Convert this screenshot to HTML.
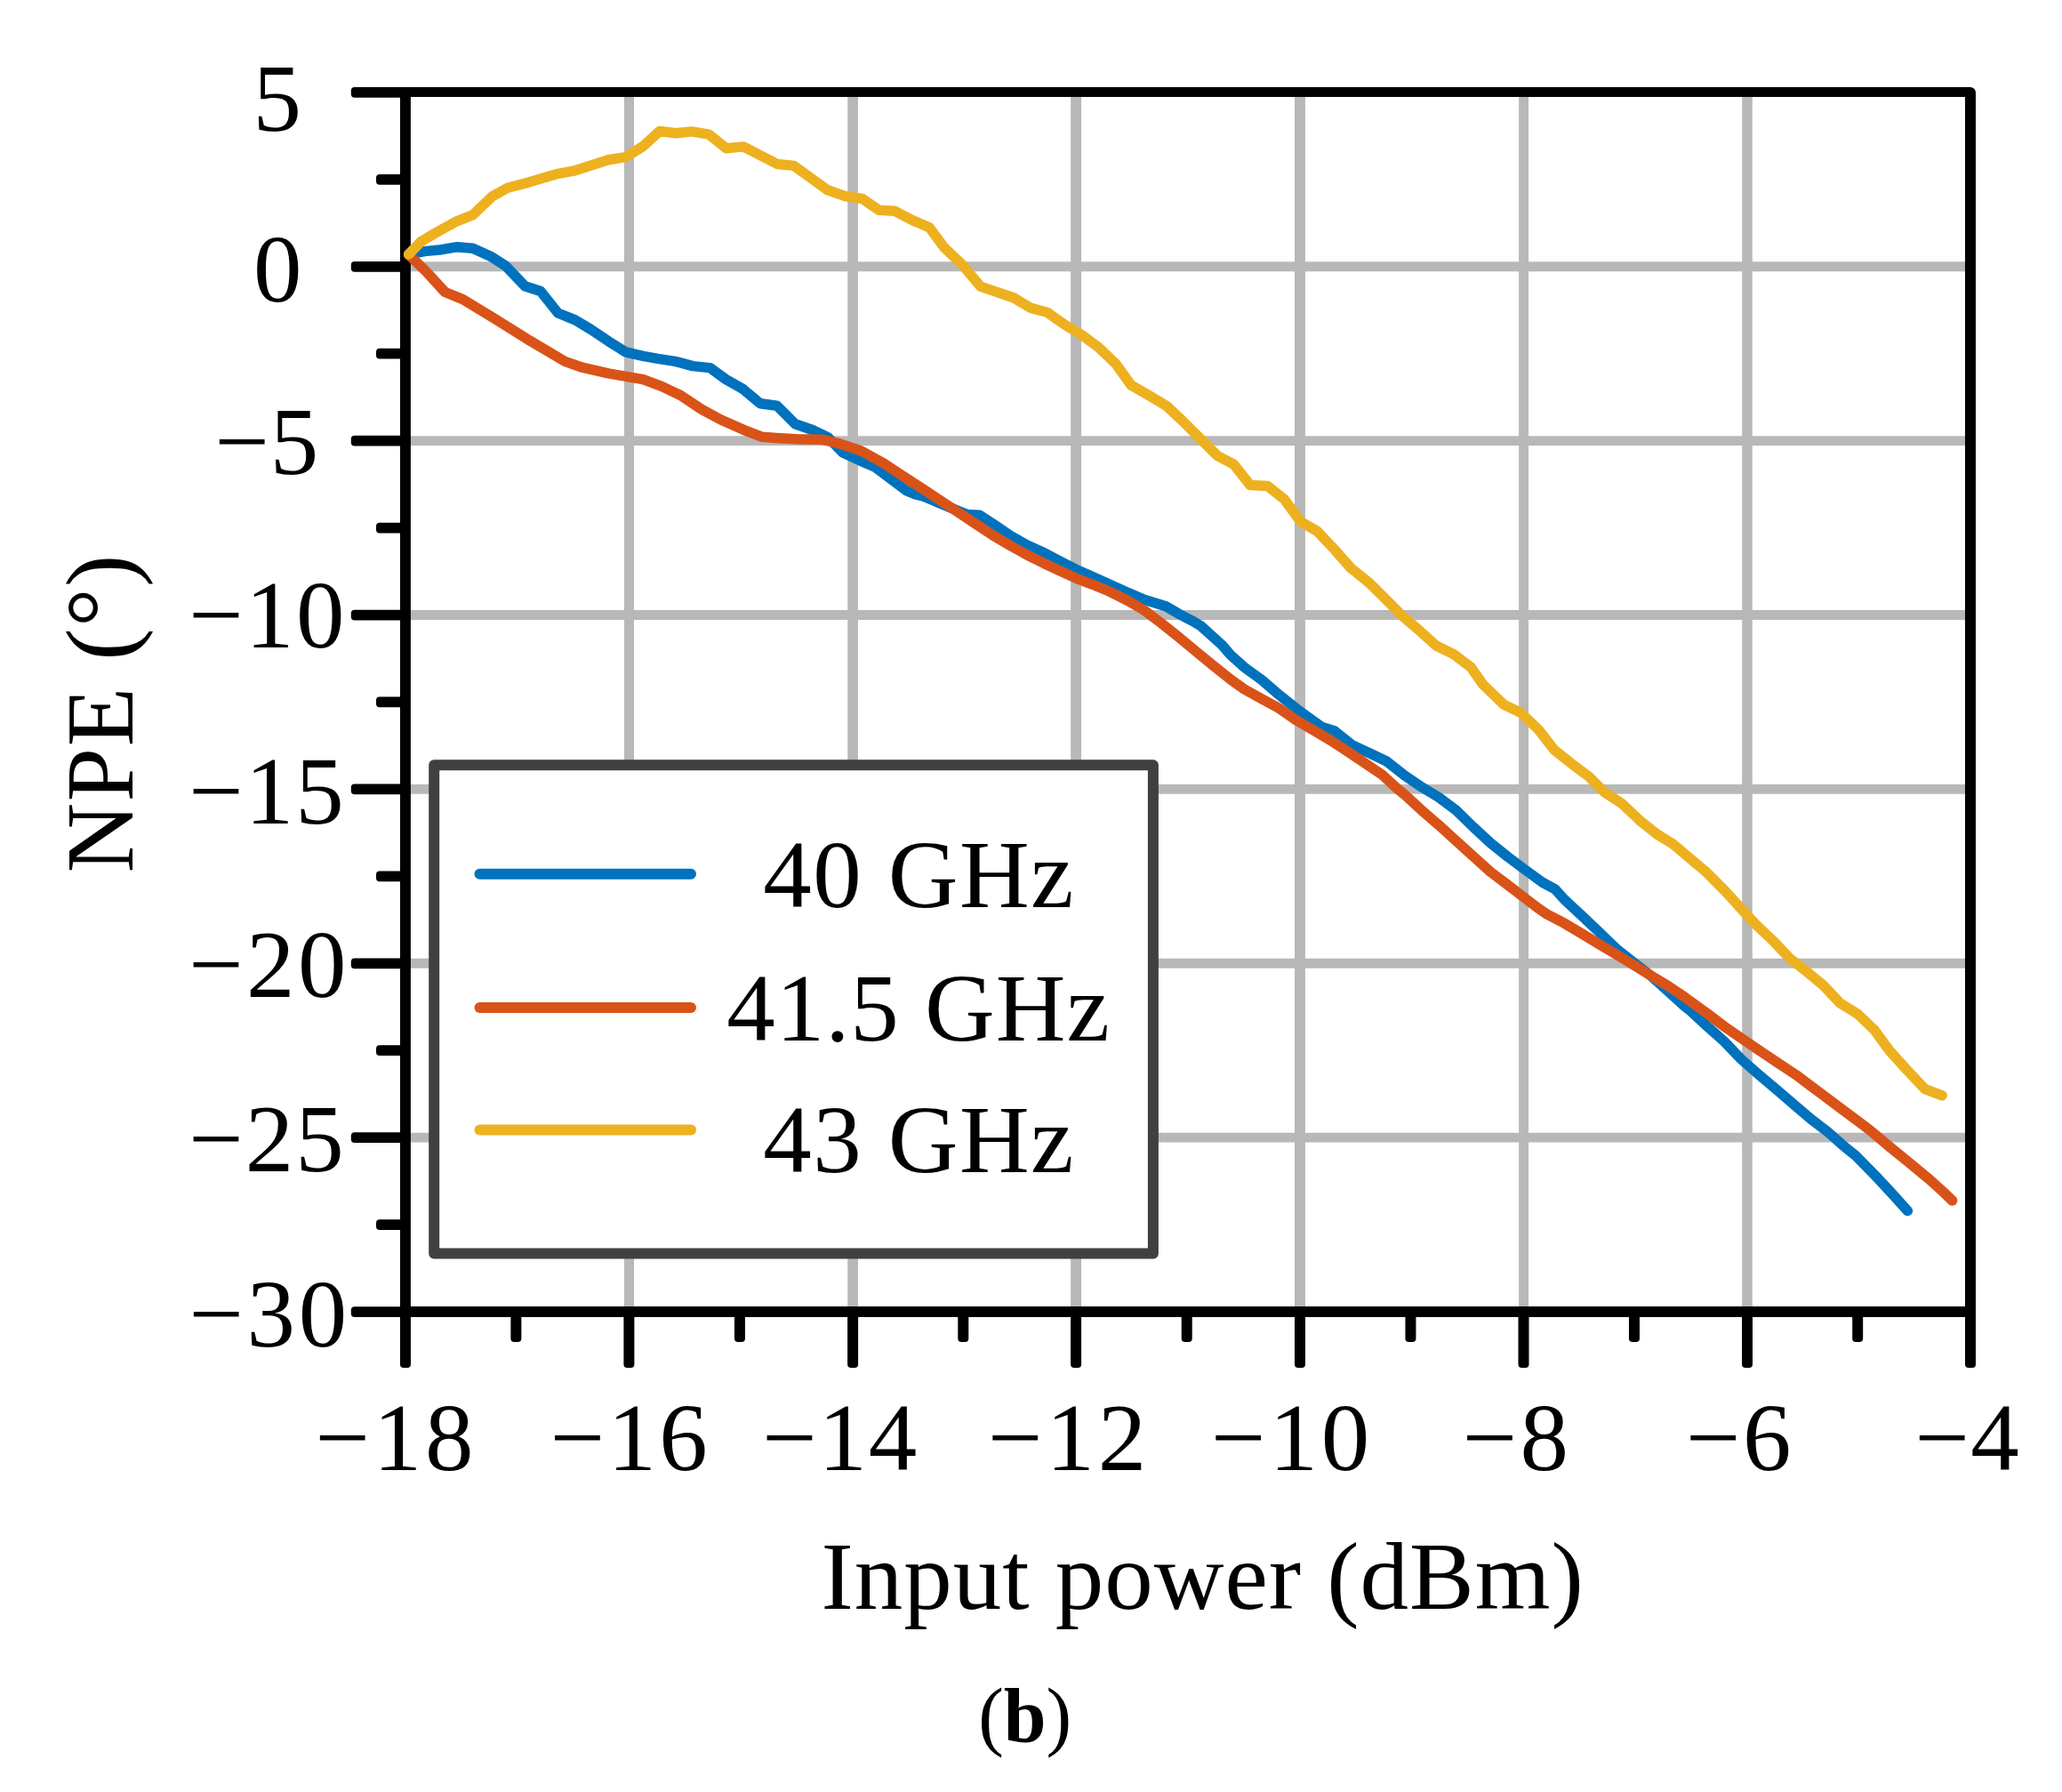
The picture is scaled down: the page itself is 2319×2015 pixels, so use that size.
<!DOCTYPE html>
<html lang="en">
<head>
<meta charset="utf-8">
<title>NPE versus input power (b)</title>
<style>
html,body{margin:0;padding:0;background:#fff;}
body{width:2319px;height:2015px;overflow:hidden;}
svg{display:block;}
text{font-family:"Liberation Serif","Times New Roman",Times,serif;fill:#000;}
</style>
</head>
<body>
<svg width="2319" height="2015" viewBox="0 0 2319 2015">
<rect width="2319" height="2015" fill="#fff"/>
<g stroke="#b8b8b8" fill="none">
<line x1="707.50" y1="103.9" x2="707.50" y2="1475.04" stroke-width="11.0"/>
<line x1="959.10" y1="103.9" x2="959.10" y2="1475.04" stroke-width="11.7"/>
<line x1="1210.10" y1="103.9" x2="1210.10" y2="1475.04" stroke-width="11.9"/>
<line x1="1461.97" y1="103.9" x2="1461.97" y2="1475.04" stroke-width="11.9"/>
<line x1="1713.60" y1="103.9" x2="1713.60" y2="1475.04" stroke-width="10.9"/>
<line x1="1965.00" y1="103.9" x2="1965.00" y2="1475.04" stroke-width="11.6"/>
<line x1="455.95" y1="299.78" x2="2215.97" y2="299.78" stroke-width="10.9"/>
<line x1="455.95" y1="495.65" x2="2215.97" y2="495.65" stroke-width="10.9"/>
<line x1="455.95" y1="691.53" x2="2215.97" y2="691.53" stroke-width="10.9"/>
<line x1="455.95" y1="887.41" x2="2215.97" y2="887.41" stroke-width="10.9"/>
<line x1="455.95" y1="1083.29" x2="2215.97" y2="1083.29" stroke-width="10.9"/>
<line x1="455.95" y1="1279.16" x2="2215.97" y2="1279.16" stroke-width="10.9"/>
</g>
<g fill="#000" stroke="none">
<path fill-rule="evenodd" d="M450.00,98.04 H2215.97 A6.0,6.0 0 0 1 2221.97,104.04 V1480.99 H450.00 Z M461.90,109.00 V1469.09 H2209.97 V109.00 Z"/>
<rect x="394.8" y="98.00" width="61.15" height="11.8" rx="4.0"/>
<rect x="423.0" y="195.94" width="32.95" height="11.8" rx="4.0"/>
<rect x="394.8" y="293.88" width="61.15" height="11.8" rx="4.0"/>
<rect x="423.0" y="391.82" width="32.95" height="11.8" rx="4.0"/>
<rect x="394.8" y="489.75" width="61.15" height="11.8" rx="4.0"/>
<rect x="423.0" y="587.69" width="32.95" height="11.8" rx="4.0"/>
<rect x="394.8" y="685.63" width="61.15" height="11.8" rx="4.0"/>
<rect x="423.0" y="783.57" width="32.95" height="11.8" rx="4.0"/>
<rect x="394.8" y="881.51" width="61.15" height="11.8" rx="4.0"/>
<rect x="423.0" y="979.45" width="32.95" height="11.8" rx="4.0"/>
<rect x="394.8" y="1077.39" width="61.15" height="11.8" rx="4.0"/>
<rect x="423.0" y="1175.32" width="32.95" height="11.8" rx="4.0"/>
<rect x="394.8" y="1273.26" width="61.15" height="11.8" rx="4.0"/>
<rect x="423.0" y="1371.20" width="32.95" height="11.8" rx="4.0"/>
<rect x="394.8" y="1469.14" width="61.15" height="11.8" rx="4.0"/>
<rect x="449.95" y="1475.04" width="12" height="62.86" rx="4.0"/>
<rect x="574.38" y="1475.04" width="12" height="33.96" rx="4.0"/>
<rect x="701.40" y="1475.04" width="12" height="62.86" rx="4.0"/>
<rect x="825.95" y="1475.04" width="12" height="33.96" rx="4.0"/>
<rect x="953.10" y="1475.04" width="12" height="62.86" rx="4.0"/>
<rect x="1077.30" y="1475.04" width="12" height="33.96" rx="4.0"/>
<rect x="1204.10" y="1475.04" width="12" height="62.86" rx="4.0"/>
<rect x="1328.73" y="1475.04" width="12" height="33.96" rx="4.0"/>
<rect x="1455.97" y="1475.04" width="12" height="62.86" rx="4.0"/>
<rect x="1580.44" y="1475.04" width="12" height="33.96" rx="4.0"/>
<rect x="1707.50" y="1475.04" width="12" height="62.86" rx="4.0"/>
<rect x="1831.95" y="1475.04" width="12" height="33.96" rx="4.0"/>
<rect x="1959.00" y="1475.04" width="12" height="62.86" rx="4.0"/>
<rect x="2083.18" y="1475.04" width="12" height="33.96" rx="4.0"/>
<rect x="2209.97" y="1475.04" width="12" height="62.86" rx="4.0"/>
</g>
<g fill="none" stroke-width="11.5" stroke-linejoin="round" stroke-linecap="round">
<polyline stroke="#0072bd" points="459.6,286.0 477.1,282.6 496.6,280.7 514.2,277.7 531.8,279.3 553.3,289.1 568.9,299.2 590.4,321.7 608.0,327.5 627.5,352.0 647.0,359.8 664.6,370.5 684.1,383.6 703.7,395.9 723.2,400.4 740.0,403.4 759.5,406.4 779.1,411.6 798.6,413.6 816.2,426.5 835.7,437.6 855.2,453.8 873.8,456.2 894.3,476.7 913.8,483.5 931.4,491.9 948.0,509.1 966.6,517.6 984.1,525.1 1003.7,540.0 1019.4,551.7 1029.1,555.7 1038.8,558.1 1048.5,562.2 1058.2,566.5 1087.3,578.4 1101.8,579.2 1116.4,588.7 1135.8,602.0 1155.2,612.9 1174.6,621.8 1194.0,632.0 1209.4,639.9 1228.8,648.6 1248.2,657.3 1267.6,666.1 1287.0,674.3 1296.7,677.2 1311.2,681.8 1325.8,690.3 1340.3,697.8 1350.0,703.4 1364.6,716.5 1374.3,725.2 1384.0,736.5 1399.4,750.3 1418.8,764.3 1438.2,781.1 1457.6,796.6 1477.0,810.7 1486.7,817.5 1501.2,822.1 1520.6,837.8 1540.0,846.8 1559.4,856.0 1579.4,871.8 1598.8,884.9 1618.2,896.6 1637.6,911.1 1657.0,930.0 1676.4,948.0 1695.8,963.5 1715.2,978.0 1734.6,992.1 1749.1,1000.0 1759.4,1011.5 1778.8,1029.5 1798.2,1047.9 1817.6,1066.7 1837.0,1082.0 1856.4,1097.0 1875.8,1114.4 1895.2,1131.9 1900.0,1135.6 1919.4,1153.5 1938.8,1170.8 1958.2,1191.0 1977.6,1208.0 1997.0,1224.3 2020.0,1244.2 2035.8,1257.6 2055.2,1272.5 2074.2,1289.3 2087.0,1299.5 2109.8,1322.8 2127.3,1341.5 2145.4,1361.6"/>
<polyline stroke="#d95319" points="459.6,286.3 479.1,305.1 500.5,328.5 520.1,336.3 557.2,358.8 596.3,383.3 635.3,406.4 654.8,413.2 684.1,419.9 723.2,426.7 744.0,434.4 765.4,444.5 788.8,460.1 810.3,471.7 835.7,483.1 857.2,491.3 876.7,492.7 896.3,493.7 925.5,494.3 945.1,499.1 968.5,507.0 993.9,521.0 1019.4,537.9 1038.8,550.3 1058.2,563.2 1077.6,576.0 1097.0,588.9 1116.4,601.7 1135.8,613.3 1155.2,624.0 1174.6,633.7 1194.0,642.7 1209.4,649.8 1228.8,657.3 1248.2,665.3 1267.6,675.0 1287.0,686.4 1306.4,701.0 1325.8,716.5 1345.2,732.7 1364.6,748.5 1384.0,764.0 1399.4,775.0 1418.8,785.7 1438.2,796.3 1457.6,809.7 1477.0,820.9 1496.4,832.5 1515.8,845.1 1535.2,858.2 1554.6,871.3 1569.1,884.7 1579.4,893.2 1598.8,911.1 1618.2,927.8 1637.6,945.5 1657.0,963.0 1676.4,980.5 1695.8,995.2 1715.2,1010.0 1728.9,1020.5 1740.0,1028.2 1759.4,1038.2 1778.8,1049.8 1798.2,1061.5 1817.6,1073.1 1837.0,1084.9 1856.4,1096.9 1875.8,1108.5 1895.2,1121.6 1919.4,1139.1 1938.8,1153.9 1958.2,1167.3 1977.6,1180.4 1997.0,1193.5 2020.0,1208.7 2043.3,1226.2 2066.6,1243.6 2089.8,1260.9 2102.4,1270.3 2125.2,1289.5 2146.4,1306.8 2170.0,1326.2 2185.2,1340.0 2195.6,1350.0"/>
<polyline stroke="#edb120" points="459.6,286.0 473.2,271.9 488.8,262.5 512.3,249.4 531.8,241.6 553.3,221.1 570.9,211.3 594.3,205.1 627.5,195.3 645.1,192.2 684.1,179.7 703.7,176.6 723.2,164.5 741.8,147.5 760.3,149.8 777.9,147.9 797.4,151.2 816.8,166.8 836.1,164.9 874.2,184.5 892.8,186.4 913.3,201.1 930.9,213.8 950.4,220.6 969.9,223.5 988.5,236.2 1006.0,237.2 1026.6,247.9 1045.1,255.7 1061.7,278.2 1083.2,298.7 1102.7,322.1 1139.8,334.8 1159.4,346.4 1177.8,351.2 1197.1,364.9 1216.6,376.6 1235.2,390.3 1254.7,408.9 1272.3,433.3 1292.8,445.0 1312.3,456.7 1330.9,474.3 1349.5,492.9 1369.0,512.4 1387.5,522.1 1406.1,545.6 1425.6,546.6 1444.2,561.2 1462.7,586.6 1481.3,597.3 1500.8,617.9 1519.5,639.1 1539.1,654.7 1558.6,673.8 1576.2,691.8 1595.7,708.4 1615.2,726.0 1634.8,735.7 1654.3,750.4 1668.0,769.9 1691.4,792.4 1710.0,801.2 1730.5,820.7 1748.0,843.2 1767.6,858.8 1787.1,873.4 1804.7,891.0 1824.4,903.8 1844.0,922.4 1863.5,938.0 1881.3,948.8 1900.8,965.4 1918.4,980.1 1939.8,1001.6 1958.0,1021.5 1974.2,1039.1 1995.4,1059.2 2012.4,1077.3 2031.5,1092.1 2050.6,1108.0 2069.7,1128.2 2088.8,1139.8 2107.8,1157.9 2124.8,1181.2 2143.9,1202.4 2165.1,1224.7 2184.2,1231.8"/>
</g>
<rect x="488.2" y="860.3" width="808.7" height="549.2" fill="#fff" stroke="#404040" stroke-width="12" stroke-linejoin="round"/>
<g fill="none" stroke-width="12" stroke-linecap="round">
<line x1="539.5" y1="982.8" x2="777" y2="982.8" stroke="#0072bd"/>
<line x1="539.5" y1="1133" x2="777" y2="1133" stroke="#d95319"/>
<line x1="539.5" y1="1270.4" x2="777" y2="1270.4" stroke="#edb120"/>
</g>
<g font-size="109">
<text x="858.20" y="1019.5" letter-spacing="1.440">40 GHz</text>
<text x="817.20" y="1170" letter-spacing="0.971">41.5 GHz</text>
<text x="858.20" y="1317.5" letter-spacing="1.440">43 GHz</text>
<text x="284.55" y="147" letter-spacing="0.000">5</text>
<text x="285.05" y="339" letter-spacing="0.000">0</text>
<text x="241.40" y="533" letter-spacing="0.900">−5</text>
<text x="212.20" y="728" letter-spacing="2.450">−10</text>
<text x="212.20" y="926" letter-spacing="2.100">−15</text>
<text x="212.20" y="1120.5" letter-spacing="3.400">−20</text>
<text x="212.20" y="1317" letter-spacing="2.100">−25</text>
<text x="212.40" y="1514" letter-spacing="3.650">−30</text>
<text x="354.60" y="1653" letter-spacing="3.700">−18</text>
<text x="618.80" y="1653" letter-spacing="3.200">−16</text>
<text x="857.20" y="1653" letter-spacing="1.800">−14</text>
<text x="1111.00" y="1653" letter-spacing="3.950">−12</text>
<text x="1362.00" y="1653" letter-spacing="3.950">−10</text>
<text x="1644.80" y="1653" letter-spacing="3.300">−8</text>
<text x="1896.00" y="1653" letter-spacing="2.500">−6</text>
<text x="2153.60" y="1653" letter-spacing="1.300">−4</text>
<text x="923.60" y="1809" letter-spacing="0.981">Input power (dBm)</text>
<text transform="translate(149,981.60) rotate(-90)" letter-spacing="1.433">NPE (°)</text>
</g>
<text x="1100.20" y="1958" font-size="86" letter-spacing="-0.050">(<tspan font-weight="bold">b</tspan>)</text>
</svg>
</body>
</html>
